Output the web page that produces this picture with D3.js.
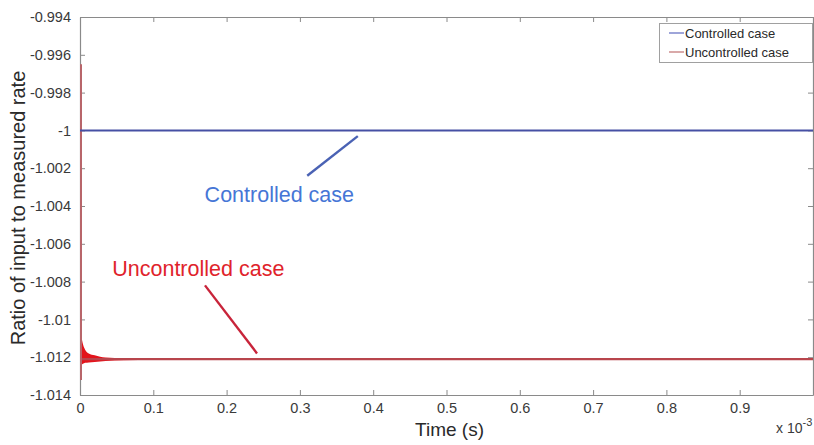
<!DOCTYPE html>
<html>
<head>
<meta charset="utf-8">
<script src="https://cdn.jsdelivr.net/npm/d3@7"></script>
<style>
  html, body { margin: 0; padding: 0; background: #fff; }
  svg { display: block; }
  text { font-family: "Liberation Sans", Arial, sans-serif; }
</style>
</head>
<body>
<svg id="chart" width="814" height="445"></svg>
<script>
// Time axis in units of 1e-3 s
const xTicks = [0, 0.1, 0.2, 0.3, 0.4, 0.5, 0.6, 0.7, 0.8, 0.9, 1.0];
const xTickLabels = ["0", "0.1", "0.2", "0.3", "0.4", "0.5", "0.6", "0.7", "0.8", "0.9", ""];
const yTicks = [-0.994, -0.996, -0.998, -1, -1.002, -1.004, -1.006, -1.008, -1.01, -1.012, -1.014];
const yTickLabels = ["-0.994", "-0.996", "-0.998", "-1", "-1.002", "-1.004", "-1.006", "-1.008", "-1.01", "-1.012", "-1.014"];

// Controlled case: flat ratio
const controlledT = [0, 1.0];
const controlledV = [-1.0, -1.0];

// Uncontrolled case: initial spike at t = 0, then a fast decaying oscillation band, then steady
const spikeT = [0, 0];
const spikeV = [-0.9965, -1.0132];
const bandT  = [0, 0.002, 0.004, 0.007, 0.012, 0.02, 0.035, 0.06, 0.1, 0.13];
const bandHi = [-1.0102, -1.0109, -1.0113, -1.0116, -1.0118, -1.0119, -1.01202, -1.01206, -1.01209, -1.0121];
const bandLo = [-1.0124, -1.0124, -1.01235, -1.0123, -1.01228, -1.01225, -1.0122, -1.01216, -1.01213, -1.01212];
const uncontrolledT = [0, 1.0];
const uncontrolledV = [-1.0121, -1.0121];

const legendLabels = ["Controlled case", "Uncontrolled case"];

const svg = d3.select("#chart");
const plotL = 80, plotR = 813, plotT = 17, plotB = 395;

const x = d3.scaleLinear().domain([0, 1.0]).range([plotL, plotR]);
const y = d3.scaleLinear().domain([-0.994, -1.014]).range([plotT, plotB]);

const axisColor = "#8a8a8a";
const labelColor = "#3a3a3a";

// Axes box with inward ticks (bottom, top, left, right)
const xAxisB = d3.axisBottom(x).tickValues(xTicks).tickSizeInner(-5).tickSizeOuter(0)
  .tickFormat((d, i) => xTickLabels[i]).tickPadding(8);
const xAxisT = d3.axisTop(x).tickValues(xTicks).tickSizeInner(-5).tickSizeOuter(0).tickFormat("");
const yAxisL = d3.axisLeft(y).tickValues(yTicks).tickSizeInner(-5).tickSizeOuter(0)
  .tickFormat((d, i) => yTickLabels[i]).tickPadding(9);
const yAxisR = d3.axisRight(y).tickValues(yTicks).tickSizeInner(-5).tickSizeOuter(0).tickFormat("");

function styleAxis(g) {
  g.select(".domain").attr("stroke", axisColor).attr("stroke-width", 1.2);
  g.selectAll(".tick line").attr("stroke", axisColor);
  g.selectAll(".tick text").attr("fill", labelColor).style("font-size", "14.5px")
    .style("font-family", "'Liberation Sans', Arial, sans-serif");
}

svg.append("g").attr("transform", `translate(0,${plotB})`).call(xAxisB).call(styleAxis);
svg.append("g").attr("transform", `translate(0,${plotT})`).call(xAxisT).call(styleAxis);
svg.append("g").attr("transform", `translate(${plotL},0)`).call(yAxisL).call(styleAxis);
svg.append("g").attr("transform", `translate(${plotR},0)`).call(yAxisR).call(styleAxis);

const line = d3.line().x(d => x(d[0])).y(d => y(d[1]));

// Uncontrolled: oscillation band
const band = bandT.map((t, i) => ({ t, hi: bandHi[i], lo: bandLo[i] }));
svg.append("path")
  .datum(band)
  .attr("d", d3.area().x(d => x(d.t)).y0(d => y(d.lo)).y1(d => y(d.hi)).curve(d3.curveMonotoneX))
  .attr("fill", "#e3141c");

// Uncontrolled: steady line
svg.append("path")
  .datum(uncontrolledT.map((t, i) => [t, uncontrolledV[i]]))
  .attr("d", line)
  .attr("fill", "none").attr("stroke", "#b8454c").attr("stroke-width", 2.2);

// Uncontrolled: initial spike
svg.append("path")
  .datum(spikeT.map((t, i) => [t, spikeV[i]]))
  .attr("d", line)
  .attr("transform", "translate(1,0)")
  .attr("fill", "none").attr("stroke", "#b8656a").attr("stroke-width", 2);

// Controlled line
svg.append("path")
  .datum(controlledT.map((t, i) => [t, controlledV[i]]))
  .attr("d", line)
  .attr("fill", "none").attr("stroke", "#4650a4").attr("stroke-width", 2);

// Annotations (data coordinates)
const notes = [
  { label: "Controlled case", color: "#4676d6", lineColor: "#4a62b4",
    from: [0.31, -1.0024], to: [0.379, -1.0003], text: [0.170, -1.0038] },
  { label: "Uncontrolled case", color: "#e0232b", lineColor: "#c8243a",
    from: [0.1705, -1.0082], to: [0.2415, -1.0118], text: [0.044, -1.0077] }
];
notes.forEach(n => {
  svg.append("line")
    .attr("x1", x(n.from[0])).attr("y1", y(n.from[1]))
    .attr("x2", x(n.to[0])).attr("y2", y(n.to[1]))
    .attr("stroke", n.lineColor).attr("stroke-width", 2.4);
  svg.append("text")
    .attr("x", x(n.text[0])).attr("y", y(n.text[1]))
    .attr("fill", n.color).style("font-size", "21.5px")
    .text(n.label);
});

// Axis titles
svg.append("text")
  .attr("x", (plotL + plotR) / 2 + 3).attr("y", 436)
  .attr("text-anchor", "middle").attr("fill", "#2a2a2a")
  .style("font-size", "19px")
  .text("Time (s)");

svg.append("text")
  .attr("transform", `translate(25,${(plotT + plotB) / 2 + 2}) rotate(-90)`)
  .attr("text-anchor", "middle").attr("fill", "#2a2a2a")
  .style("font-size", "20px")
  .text("Ratio of input to measured rate");

// Exponent for time axis
const ex = svg.append("text").attr("x", 776).attr("y", 433).attr("fill", labelColor).style("font-size", "14px");
ex.append("tspan").text("x 10");
ex.append("tspan").attr("dy", -7).style("font-size", "11px").text("-3");

// Legend
const lg = svg.append("g");
lg.append("rect").attr("x", 659.5).attr("y", 23.5).attr("width", 153).attr("height", 39)
  .attr("fill", "#fff").attr("stroke", "#a0a0a0");
const legendColors = ["#6a74c4", "#c47a7a"];
legendLabels.forEach((lab, i) => {
  const yy = 33 + i * 19;
  lg.append("line").attr("x1", 669).attr("x2", 684).attr("y1", yy).attr("y2", yy)
    .attr("stroke", legendColors[i]).attr("stroke-width", 1.3);
  lg.append("text").attr("x", 685).attr("y", yy + 5).attr("fill", "#2a2a2a")
    .style("font-size", "13px").text(lab);
});
</script>
</body>
</html>
